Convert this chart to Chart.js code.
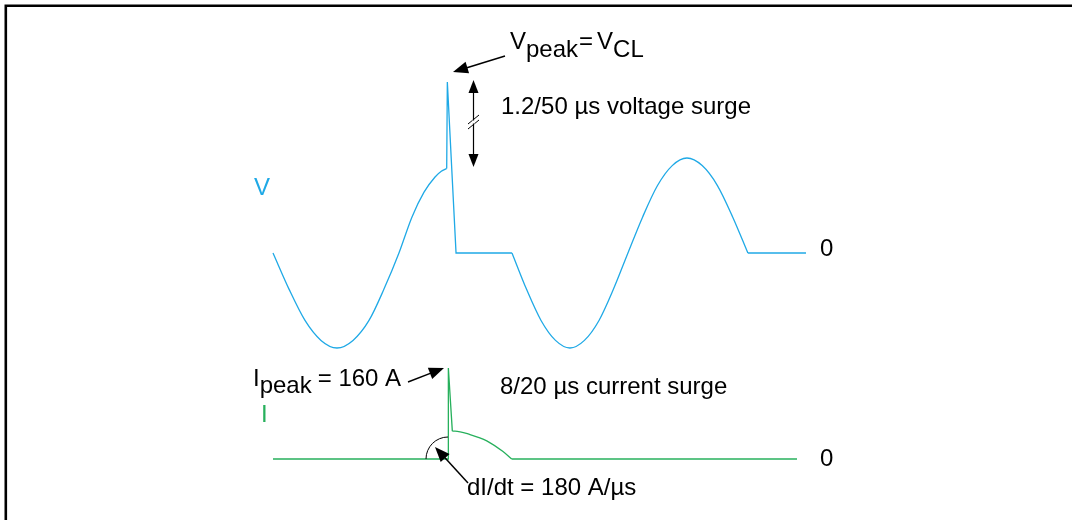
<!DOCTYPE html>
<html>
<head>
<meta charset="utf-8">
<script src="https://cdn.jsdelivr.net/npm/chart.js@4"></script>
<style>
  html, body { margin: 0; padding: 0; background: #fff; }
  #wrap { width: 1072px; height: 520px; position: relative; }
</style>
</head>
<body>
<div id="wrap"><canvas id="surgeChart"></canvas></div>
<script>
// Voltage trace: time (ms) and voltage (per unit of mains peak)
const voltTime = [0, 1.25, 2.5, 3.75, 5, 6.25, 7.5, 8.67, 9.84, 10.86, 11.80, 12.66, 13.15, 13.57,
                  13.62, 14.30, 18.67,
                  19.8, 20.94, 22.07, 23.2, 24.33, 25.47, 26.6, 27.73, 28.88, 30.04, 31.19, 32.34, 33.53, 34.72, 35.91, 37.1,
                  41.64];
const voltValue = [0, -0.38, -0.71, -0.92, -1.0, -0.92, -0.71, -0.38, 0, 0.38, 0.64, 0.80, 0.86, 0.89,
                   1.80, 0, 0,
                   -0.38, -0.71, -0.92, -1.0, -0.92, -0.71, -0.38, 0, 0.38, 0.71, 0.92, 1.0, 0.92, 0.71, 0.38, 0,
                   0];
// index ranges of the trace that are smooth curves (rest are straight)
const voltSmooth = [[0, 13], [16, 32]];

// Current trace: time (ms) and current (A)
const currTime = [0, 13.69, 13.70, 14.01, 14.22, 15.39, 16.70, 17.97, 18.65, 40.94];
const currValue = [0, 0, 160, 49, 49, 43, 32, 13, 0, 0];
const currSmooth = [[3, 8]];

const vColor = '#1fa9e6';
const iColor = '#27b05c';

// layout: pixel anchors for the axes (axes are hidden)
const W = 1072, H = 520;
const tZeroPx = 273, pxPerMs = 12.8;
const vZeroPx = 253, pxPerPu = 95;
const iZeroPx = 459, pxPerA = 91 / 160;

function pieces(ts, vs, smooth) {
  const out = [];
  const n = ts.length;
  let cuts = [];
  smooth.forEach(r => cuts.push({a: r[0], b: r[1], s: true}));
  // straight parts between smooth runs
  let prev = 0;
  smooth.forEach(r => { if (r[0] > prev) cuts.push({a: prev, b: r[0], s: false}); prev = r[1]; });
  if (prev < n - 1) cuts.push({a: prev, b: n - 1, s: false});
  cuts.forEach(c => {
    const pts = [];
    for (let k = c.a; k <= c.b; k++) pts.push({x: ts[k], y: vs[k]});
    out.push({pts, smooth: c.s});
  });
  return out;
}

const datasets = [];
pieces(voltTime, voltValue, voltSmooth).forEach(p => datasets.push({
  data: p.pts, yAxisID: 'yV', borderColor: vColor, borderWidth: 1.3,
  pointRadius: 0, fill: false,
  cubicInterpolationMode: p.smooth ? 'monotone' : 'default', tension: 0
}));
pieces(currTime, currValue, currSmooth).forEach(p => datasets.push({
  data: p.pts, yAxisID: 'yI', borderColor: iColor, borderWidth: 1.3,
  pointRadius: 0, fill: false,
  cubicInterpolationMode: p.smooth ? 'monotone' : 'default', tension: 0
}));

const FONT = '"Liberation Sans", Arial, Helvetica, sans-serif';

function arrow(ctx, x1, y1, x2, y2, len, half) {
  const a = Math.atan2(y2 - y1, x2 - x1);
  ctx.beginPath();
  ctx.moveTo(x1, y1);
  ctx.lineTo(x2 - Math.cos(a) * len * 0.8, y2 - Math.sin(a) * len * 0.8);
  ctx.stroke();
  ctx.beginPath();
  ctx.moveTo(x2, y2);
  ctx.lineTo(x2 - Math.cos(a) * len + Math.sin(a) * half, y2 - Math.sin(a) * len - Math.cos(a) * half);
  ctx.lineTo(x2 - Math.cos(a) * len - Math.sin(a) * half, y2 - Math.sin(a) * len + Math.cos(a) * half);
  ctx.closePath();
  ctx.fill();
}

// draws pieces [text, isSub, extraGap] in a row
function richText(ctx, x, y, parts, size, sub) {
  ctx.textAlign = 'left';
  ctx.textBaseline = 'alphabetic';
  ctx.font = size + 'px ' + FONT;
  parts.forEach(p => {
    ctx.fillText(p[0], x, y + (p[1] ? sub : 0));
    x += ctx.measureText(p[0]).width + (p[2] || 0);
  });
}

const annotations = {
  id: 'annotations',
  afterDraw(chart) {
    const ctx = chart.ctx;
    ctx.save();
    // frame
    ctx.strokeStyle = '#000';
    ctx.lineWidth = 2.6;
    ctx.beginPath();
    ctx.moveTo(5.8, H);
    ctx.lineTo(5.8, 5.8);
    ctx.lineTo(W, 5.8);
    ctx.stroke();

    ctx.fillStyle = '#000';
    ctx.strokeStyle = '#000';
    ctx.lineWidth = 1.5;

    // V peak label and arrow
    richText(ctx, 510, 49, [['V', false], ['peak', true, 1], ['=', false, 4], ['V', false], ['CL', true]], 24, 8);
    arrow(ctx, 505, 56, 453, 72, 15, 6);

    // 1.2/50 double arrow with break
    ctx.lineWidth = 1.2;
    arrow(ctx, 473.5, 124, 473.5, 80, 13, 5);
    arrow(ctx, 473.5, 124, 473.5, 167, 13, 5);
    ctx.lineWidth = 1;
    ctx.beginPath();
    ctx.moveTo(468, 124); ctx.lineTo(479, 115);
    ctx.moveTo(468, 129); ctx.lineTo(479, 120);
    ctx.stroke();
    ctx.strokeStyle = '#fff';
    ctx.lineWidth = 2.5;
    ctx.beginPath();
    ctx.moveTo(473.5, 120.5); ctx.lineTo(473.5, 123.5);
    ctx.stroke();

    ctx.font = '24px ' + FONT;
    ctx.textBaseline = 'middle';
    ctx.textAlign = 'left';
    ctx.fillText('1.2/50 \u00b5s voltage surge', 501, 107);
    ctx.fillText('8/20 \u00b5s current surge', 500, 387);
    ctx.fillText('dI/dt = 180 A/\u00b5s', 467, 488);
    ctx.fillText('0', 820, 249);
    ctx.fillText('0', 820, 459);

    ctx.fillStyle = vColor;
    ctx.fillText('V', 254, 188);
    ctx.fillStyle = iColor;
    ctx.fillText('I', 261, 415);

    // I peak label and arrow
    ctx.fillStyle = '#000';
    ctx.strokeStyle = '#000';
    richText(ctx, 253, 386, [['I', false], ['peak', true, 6], ['= 160 A', false]], 24, 7);
    ctx.lineWidth = 1.5;
    arrow(ctx, 408, 382, 444, 368, 15, 6);

    // dI/dt arc and arrow
    ctx.lineWidth = 1;
    ctx.beginPath();
    ctx.arc(448, 459, 22, Math.PI, Math.PI * 1.5);
    ctx.stroke();
    ctx.lineWidth = 1.5;
    arrow(ctx, 468, 483, 435, 447, 15, 6);
    ctx.restore();
  }
};

new Chart(document.getElementById('surgeChart').getContext('2d'), {
  type: 'line',
  data: { datasets },
  options: {
    responsive: true,
    maintainAspectRatio: false,
    animation: false,
    devicePixelRatio: 1,
    layout: { padding: 0 },
    plugins: { legend: { display: false }, tooltip: { enabled: false } },
    scales: {
      x: { type: 'linear', display: false,
           min: -tZeroPx / pxPerMs, max: (W - tZeroPx) / pxPerMs },
      yV: { type: 'linear', display: false,
            min: -(H - vZeroPx) / pxPerPu, max: vZeroPx / pxPerPu },
      yI: { type: 'linear', display: false,
            min: -(H - iZeroPx) / pxPerA, max: iZeroPx / pxPerA }
    }
  },
  plugins: [annotations]
});
</script>
</body>
</html>
